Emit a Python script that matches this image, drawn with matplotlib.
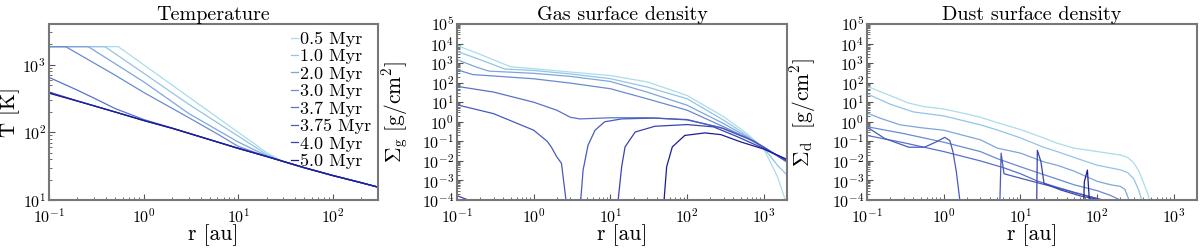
import matplotlib
matplotlib.use("Agg")
import matplotlib.pyplot as plt
from matplotlib.ticker import LogLocator, NullFormatter

plt.rcParams['font.family'] = 'serif'
plt.rcParams['font.serif'] = ['cmr10', 'DejaVu Serif']
plt.rcParams['mathtext.fontset'] = 'cm'
plt.rcParams['axes.formatter.use_mathtext'] = True
plt.rcParams['axes.unicode_minus'] = False

labels = ["0.5 Myr", "1.0 Myr", "2.0 Myr", "3.0 Myr", "3.7 Myr", "3.75 Myr", "4.0 Myr", "5.0 Myr"]
colors = ["#aadcea", "#92c4e6", "#7ea6dc", "#6a8ad2", "#5872c8", "#485abd", "#3a42b0", "#1c1c96"]

# ---------------- Temperature [K] vs r [au] ----------------
T_r = [
    [0.1, 0.54, 1, 2, 5, 10, 15, 20, 25, 30, 50, 100, 200, 300],
    [0.1, 0.39, 1, 3, 10, 20, 30, 50, 100, 200, 300],
    [0.1, 0.26, 1, 3, 10, 20, 30, 50, 100, 200, 300],
    [0.1, 0.15, 0.5, 1, 3, 6, 10, 20, 50, 100, 200, 300],
    [0.1, 0.2, 0.3, 0.5, 1, 2, 5, 10, 20, 50, 100, 200, 300],
    [0.1, 0.2, 0.5, 1, 2, 5, 10, 20, 50, 100, 200, 300],
    [0.1, 0.2, 0.5, 1, 2, 5, 10, 20, 50, 100, 200, 300],
    [0.1, 0.2, 0.5, 1, 2, 5, 10, 20, 50, 100, 200, 300],
]
T_val = [
    [1850, 1850, 1000, 500, 200, 100, 67, 50, 42, 37, 30, 23, 18, 15.5],
    [1850, 1850, 750, 260, 88, 47, 37, 30, 23, 18, 15.5],
    [1850, 1850, 560, 190, 72, 45, 37, 30, 23, 18, 15.5],
    [1850, 1850, 700, 390, 165, 95, 62, 44, 30, 23, 18, 15.5],
    [650, 420, 320, 225, 155, 116, 78, 58, 44, 30, 23, 18, 15.5],
    [395, 292, 200, 150, 115, 78, 58, 44, 30, 23, 18, 15.5],
    [385, 290, 200, 150, 115, 78, 58, 44, 30, 23, 18, 15.5],
    [380, 290, 200, 150, 115, 78, 58, 44, 30, 23, 18, 15.5],
]

# ---------------- Gas surface density [g/cm^2] ----------------
# each time may consist of several segments (inner disk / outer disk)
G_r = [
    [[0.1, 0.2, 0.5, 1, 3, 10, 30, 100, 300, 600, 1000, 1500, 1900]],
    [[0.1, 0.2, 0.42, 1, 3, 10, 30, 100, 300, 600, 1000, 1500, 2000]],
    [[0.1, 0.18, 0.26, 1, 3, 10, 30, 100, 300, 600, 1000, 2000]],
    [[0.1, 0.16, 1, 3, 10, 30, 100, 300, 600, 1000, 2000]],
    [[0.1, 0.3, 1, 2, 3, 4, 10, 30, 100, 300, 600, 1000, 2000]],
    [[0.1, 0.3, 1, 1.5, 1.7, 2.0, 2.3, 2.63],
     [4.1, 4.4, 5.1, 6.3, 8.4, 14, 38, 100, 275, 750, 2000]],
    [[0.1, 0.14],
     [12.6, 14, 15.5, 21, 38, 100, 220, 455, 910, 2000]],
    [[50, 54, 64, 93, 170, 275, 500, 1000, 2000]],
]
G_val = [
    [[8000, 2800, 650, 520, 350, 230, 110, 22, 1.8, 0.25, 0.04, 0.0016, 1e-4]],
    [[4000, 1500, 500, 420, 280, 160, 60, 15, 1.2, 0.2, 0.045, 0.006, 0.0019]],
    [[1500, 620, 390, 300, 210, 115, 33, 7, 0.8, 0.17, 0.05, 0.009]],
    [[460, 260, 158, 95, 49, 15, 3.9, 0.55, 0.15, 0.05, 0.009]],
    [[65, 33, 10, 3.9, 1.7, 1.4, 1.6, 1.6, 1.3, 0.45, 0.15, 0.05, 0.009]],
    [[7.4, 2.6, 0.37, 0.1, 0.05, 0.016, 0.0075, 1e-4],
     [1e-4, 3.4e-3, 0.063, 0.37, 1.0, 1.4, 1.55, 1.25, 0.5, 0.1, 0.009]],
    [[1.66e-4, 1e-4],
     [1e-4, 5e-3, 0.052, 0.3, 0.59, 0.72, 0.55, 0.17, 0.05, 0.011]],
    [[1e-4, 5e-3, 0.052, 0.2, 0.27, 0.22, 0.093, 0.04, 0.012]],
]

# ---------------- Dust surface density [g/cm^2] ----------------
D_r = [
    [[0.1, 0.2, 0.35, 0.55, 1, 2, 3, 5, 10, 20, 30, 50, 100, 200, 250, 300, 350, 400, 450, 480]],
    [[0.1, 0.2, 0.4, 1, 3, 5, 10, 20, 30, 50, 100, 200, 250, 300, 350, 380]],
    [[0.1, 0.15, 0.27, 0.5, 1, 3, 5, 10, 20, 30, 50, 100, 150, 200, 230, 260]],
    [[0.1, 0.3, 1, 3, 5, 10, 20, 50, 100, 150, 200]],
    [[0.1, 0.3, 1, 3, 6, 10, 17, 30, 50, 80, 120]],
    [[0.1, 0.17, 0.35, 0.56, 0.8, 1.03, 1.2, 1.32, 1.46, 1.62],
     [5.4, 5.6, 6.1, 10, 17, 30, 50, 80, 115]],
    [[16.3, 16.6, 18.5, 20.3, 34, 61, 112]],
    [[67, 68, 74.6, 79]],
]
D_val = [
    [[65, 22, 9, 6, 4.5, 2.5, 1.7, 0.9, 0.4, 0.15, 0.08, 0.045, 0.03, 0.02, 0.015, 0.008, 0.003, 8e-4, 2.5e-4, 1e-4]],
    [[27, 8, 3.2, 2, 0.7, 0.38, 0.15, 0.05, 0.03, 0.015, 0.006, 0.0035, 0.0025, 0.0012, 3e-4, 1e-4]],
    [[2.8, 1.5, 0.7, 0.5, 0.37, 0.12, 0.045, 0.025, 0.009, 0.006, 0.003, 0.0009, 6e-4, 5e-4, 3.5e-4, 1e-4]],
    [[0.56, 0.25, 0.09, 0.03, 0.013, 0.005, 0.002, 6e-4, 3e-4, 1.7e-4, 1e-4]],
    [[0.2, 0.085, 0.03, 0.01, 0.0045, 0.0022, 9e-4, 4.5e-4, 2.5e-4, 1.5e-4, 1e-4]],
    [[0.54, 0.14, 0.05, 0.05, 0.094, 0.16, 0.11, 0.029, 0.0028, 1e-4],
     [1e-4, 0.025, 0.0022, 0.0013, 7.5e-4, 4.2e-4, 2.4e-4, 1.5e-4, 1e-4]],
    [[1e-4, 0.035, 0.009, 7e-4, 3.2e-4, 1.6e-4, 1e-4]],
    [[1e-4, 8.5e-4, 0.0034, 1e-4]],
]

fig = plt.figure(figsize=(12, 2.52), dpi=100)
W, H = 1200.0, 252.0
def px_axes(x0, x1, y0, y1):
    return fig.add_axes([x0 / W, 1 - y1 / H, (x1 - x0) / W, (y1 - y0) / H])

ax1 = px_axes(49, 378, 24, 200)
ax2 = px_axes(457, 787, 24, 200)
ax3 = px_axes(867, 1197, 24, 200)

lw = 0.9
for i in range(8):
    ax1.plot(T_r[i], T_val[i], color=colors[i], lw=lw, label=labels[i])
for i in range(8):
    for rr, vv in zip(G_r[i], G_val[i]):
        ax2.plot(rr, vv, color=colors[i], lw=lw)
for i in range(8):
    for rr, vv in zip(D_r[i], D_val[i]):
        ax3.plot(rr, vv, color=colors[i], lw=lw)

for ax in (ax1, ax2, ax3):
    ax.set_xscale('log')
    ax.set_yscale('log')
    ax.xaxis.set_major_locator(LogLocator(base=10, numticks=20))
    ax.yaxis.set_major_locator(LogLocator(base=10, numticks=20))
    ax.xaxis.set_minor_locator(LogLocator(base=10, subs=range(2, 10), numticks=20))
    ax.yaxis.set_minor_locator(LogLocator(base=10, subs=range(2, 10), numticks=20))
    ax.yaxis.set_minor_formatter(NullFormatter())
    ax.xaxis.set_minor_formatter(NullFormatter())
    ax.tick_params(which='both', direction='in', top=False, right=False, labelsize=11.5,
                   color='#555555')
    ax.tick_params(axis='y', which='both', pad=2)
    ax.tick_params(axis='x', which='both', pad=5)
    ax.tick_params(which='major', length=4, width=0.8)
    ax.tick_params(which='minor', length=2, width=0.6)
    for s in ax.spines.values():
        s.set_color('#777777')
        s.set_linewidth(1.5)
    ax.set_xlabel('r [au]', fontsize=15.5, labelpad=-1)

ax1.set_xlim(0.1, 300)
ax1.set_ylim(10, 4000)
ax2.set_xlim(0.1, 2000)
ax2.set_ylim(1e-4, 1e5)
ax3.set_xlim(0.1, 2000)
ax3.set_ylim(1e-4, 1e5)

ax1.set_title('Temperature', fontsize=14.5, pad=3)
ax2.set_title('Gas surface density', fontsize=14.5, pad=3)
ax3.set_title('Dust surface density', fontsize=14.5, pad=3)
ax1.set_ylabel('T [K]', fontsize=15)
ax2.set_ylabel(r'$\Sigma_{\rm g}\ [{\rm g/cm}^2]$', fontsize=15.5)
ax3.set_ylabel(r'$\Sigma_{\rm d}\ \ [{\rm g/cm}^2]$', fontsize=15.5)
ax1.yaxis.set_label_coords(-0.088, 0.5)
ax2.yaxis.set_label_coords(-0.14, 0.5)
ax3.yaxis.set_label_coords(-0.15, 0.5)

leg = ax1.legend(loc='upper right', frameon=False, fontsize=13, handlelength=0.4,
                 handletextpad=0.1, labelspacing=0.1, borderaxespad=0.2,
                 borderpad=0.2)

fig.savefig('out.png', dpi=100)
